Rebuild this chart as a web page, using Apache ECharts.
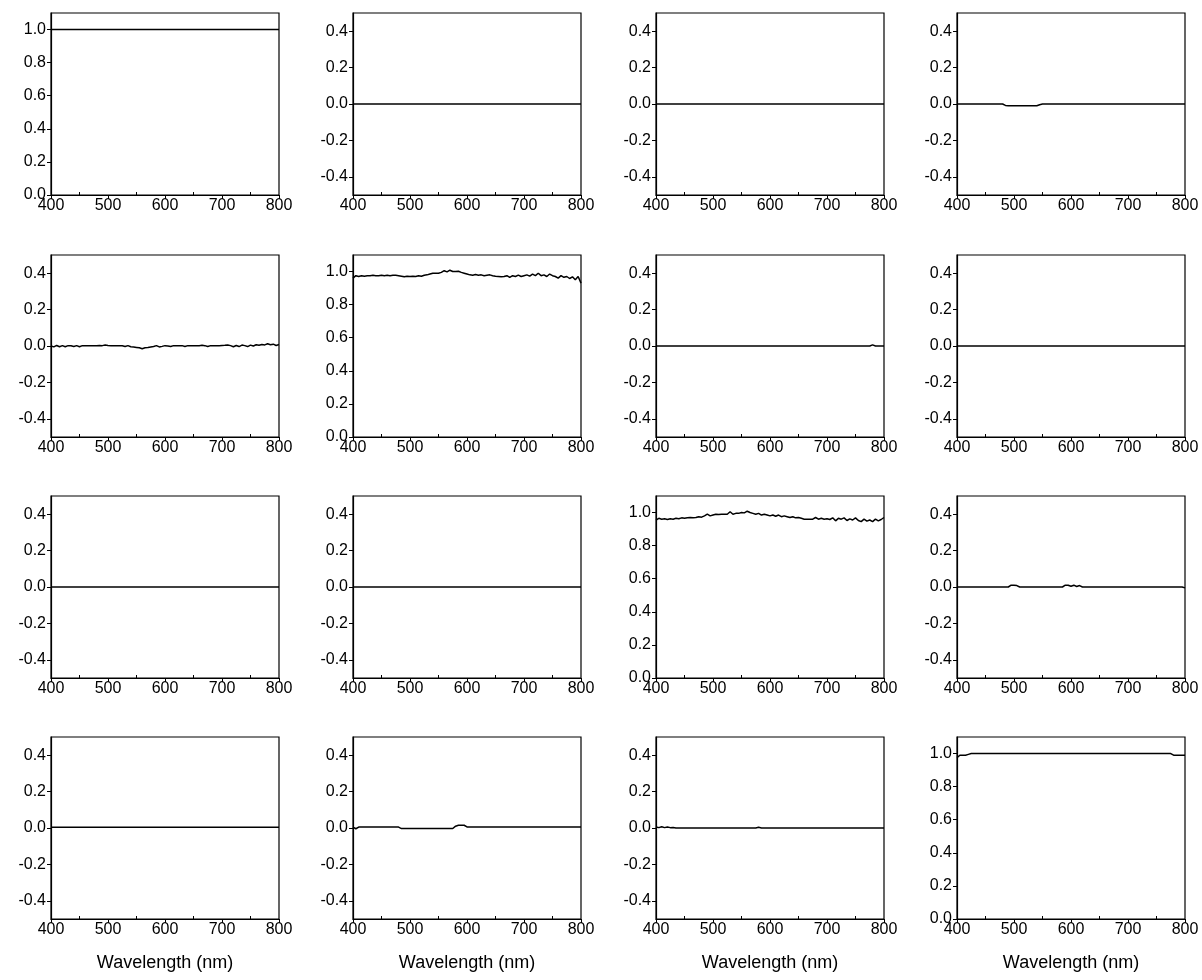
<!DOCTYPE html>
<html><head><meta charset="utf-8">
<script src="https://cdn.jsdelivr.net/npm/echarts@6/dist/echarts.min.js"></script>
<style>html,body{margin:0;padding:0;background:#fff}#c{width:1202px;height:980px}</style>
</head><body><div id="c"></div><script>
// Wavelength grids (nm)
const wl5 = [400,405,410,415,420,425,430,435,440,445,450,455,460,465,470,475,480,485,490,495,
500,505,510,515,520,525,530,535,540,545,550,555,560,565,570,575,580,585,590,595,
600,605,610,615,620,625,630,635,640,645,650,655,660,665,670,675,680,685,690,695,
700,705,710,715,720,725,730,735,740,745,750,755,760,765,770,775,780,785,790,795,800];
const wlEnds = [400, 800];

// Tick labels
const xTicks = [400,500,600,700,800];
const xMinorTicks = [450,550,650,750];
const yTicksUnit = [0,0.2,0.4,0.6,0.8,1.0];
const yTicksSym = [-0.4,-0.2,0,0.2,0.4];
const xTitle = 'Wavelength (nm)';

// Panel values (row by row)
const p1 = [1.0, 1.0];
const p2 = [0, 0];
const p3 = [0, 0];
const p4 = [0,0,0,0,0,0,0,0,0,0,0,0,0,0,0,0,0,-0.008,
-0.01,-0.01,-0.01,-0.01,-0.01,-0.01,-0.01,-0.01,-0.01,-0.01,-0.01,-0.004,
0,0,0,0,0,0,0,0,0,0,0,0,0,0,0,0,0,0,0,0,0,0,0,0,0,0,0,0,0,0,0,0,0,0,0,0,0,0,0,0,0,0,0,0,0,0,0,0,0,0,0];
const p5 = [0,-0.005,0.003,-0.004,0.002,-0.004,0.002,0.001,-0.003,0.002,-0.004,0.002,0.002,0.001,0.002,0.002,0.002,0.003,0.002,0.005,
0.003,0.002,0.002,0.002,0.002,0.001,-0.003,0.002,-0.004,-0.006,-0.008,-0.01,-0.015,-0.01,-0.008,-0.005,-0.003,0.002,-0.005,-0.002,
0.002,0,-0.003,0.002,0.002,0.002,0.002,-0.003,0.002,0.002,0.002,0.002,0.002,0.004,0.002,-0.003,0.002,0.002,0.002,0.002,
0.003,0.004,0.006,0.002,-0.004,0.003,-0.003,0.005,0.002,-0.003,0.005,0,0.007,0.004,0.008,0.006,0.012,0.007,0.01,0.003,0.008];
const p6 = [0.96,0.975,0.97,0.975,0.972,0.975,0.975,0.978,0.975,0.975,0.978,0.975,0.978,0.975,0.978,0.978,0.975,0.972,0.968,0.972,
0.97,0.972,0.97,0.975,0.972,0.978,0.98,0.985,0.99,0.99,0.99,0.995,1.005,0.998,1.008,1.0,1.0,1.002,0.995,0.99,
0.985,0.98,0.978,0.982,0.978,0.98,0.975,0.978,0.98,0.975,0.972,0.97,0.968,0.97,0.975,0.965,0.975,0.97,0.978,0.97,
0.975,0.98,0.972,0.985,0.975,0.99,0.975,0.98,0.97,0.985,0.975,0.97,0.96,0.975,0.965,0.97,0.958,0.968,0.95,0.97,0.93];
const p7 = [0,0,0,0,0,0,0,0,0,0,0,0,0,0,0,0,0,0,0,0,0,0,0,0,0,0,0,0,0,0,0,0,0,0,0,0,0,0,0,0,
0,0,0,0,0,0,0,0,0,0,0,0,0,0,0,0,0,0,0,0,0,0,0,0,0,0,0,0,0,0,0,0,0,0,0,0,0.006,0,0,0,0];
const p8 = [0, 0];
const p9 = [0, 0];
const p10 = [0, 0];
const p11 = [0.955,0.965,0.96,0.962,0.958,0.962,0.96,0.965,0.962,0.968,0.965,0.968,0.97,0.968,0.97,0.975,0.972,0.98,0.99,0.98,
0.985,0.99,0.988,0.99,0.99,0.99,1.005,0.99,0.995,0.995,1.0,0.998,1.008,1.0,0.995,0.99,0.995,0.985,0.99,0.985,
0.98,0.985,0.978,0.985,0.975,0.98,0.975,0.97,0.975,0.968,0.97,0.965,0.96,0.96,0.96,0.96,0.97,0.96,0.965,0.96,
0.962,0.958,0.968,0.95,0.965,0.96,0.968,0.952,0.962,0.955,0.968,0.952,0.945,0.96,0.948,0.955,0.945,0.96,0.95,0.958,0.97];
const p12 = [0,0,0,0,0,0,0,0,0,0,0,0,0,0,0,0,0,0,0,0.01,0.01,0.008,
0,0,0,0,0,0,0,0,0,0,0,0,0,0,0,0,0.01,0.01,0.004,0.01,0.003,0.008,
0,0,0,0,0,0,0,0,0,0,0,0,0,0,0,0,0,0,0,0,0,0,0,0,0,0,0,0,0,0,0,0,0,0,0,0,-0.005];
const p13 = [0.004, 0.004];
const p14 = [0.005,-0.004,0.005,0.005,0.005,0.005,0.005,0.005,0.005,0.005,0.005,0.005,0.005,0.005,0.005,0.005,0.005,
-0.003,-0.003,-0.003,-0.003,-0.003,-0.003,-0.003,-0.003,-0.003,-0.003,-0.003,-0.003,-0.003,-0.003,-0.003,-0.003,-0.003,-0.003,-0.003,
0.01,0.015,0.015,0.015,0.006,
0.005,0.005,0.005,0.005,0.005,0.005,0.005,0.005,0.005,0.005,0.005,0.005,0.005,0.005,0.005,0.005,0.005,0.005,0.005,0.005,
0.005,0.005,0.005,0.005,0.005,0.005,0.005,0.005,0.005,0.005,0.005,0.005,0.005,0.005,0.005,0.005,0.005,0.005,0.005,0.005];
const p15 = [0.006,0.002,0.007,0.002,0.006,0.002,0.003,
0,0,0,0,0,0,0,0,0,0,0,0,0,0,0,0,0,0,0,0,0,0,0,0,0,0,0,0,0,0.004,
0,0,0,0,0,0,0,0,0,0,0,0,0,0,0,0,0,0,0,0,0,0,0,0,0,0,0,0,0,0,0,0,0,0,0,0,0,0,0,0,0,0,0,0];
const p16 = [0.975,0.99,0.99,0.99,0.995,
1,1,1,1,1,1,1,1,1,1,1,1,1,1,1,1,1,1,1,1,1,1,1,1,1,1,1,1,1,1,1,1,1,1,1,1,1,1,
1,1,1,1,1,1,1,1,1,1,1,1,1,1,1,1,1,1,1,1,1,1,1,1,1,1,1,1,1,1,1,1,1,
0.99,0.99,0.99,0.99,0.99,0.99,0.99,0.98];

const panels = [
  {x: wlEnds, y: p1, unit: true},  {x: wlEnds, y: p2, unit: false}, {x: wlEnds, y: p3, unit: false}, {x: wl5, y: p4, unit: false},
  {x: wl5, y: p5, unit: false},    {x: wl5, y: p6, unit: true},     {x: wl5, y: p7, unit: false},    {x: wlEnds, y: p8, unit: false},
  {x: wlEnds, y: p9, unit: false}, {x: wlEnds, y: p10, unit: false},{x: wl5, y: p11, unit: true},    {x: wl5, y: p12, unit: false},
  {x: wlEnds, y: p13, unit: false},{x: wl5, y: p14, unit: false},   {x: wl5, y: p15, unit: false},   {x: wl5, y: p16, unit: true}
];

const lefts = [51, 353, 656, 957];
const tops = [13, 255, 496, 737];
const W = 228, H = 182;
const FONT = 'Liberation Sans, Arial, sans-serif';

const grid = [], xAxis = [], yAxis = [], series = [];
panels.forEach((p, i) => {
  const row = Math.floor(i / 4), col = i % 4;
  grid.push({left: lefts[col], top: tops[row], width: W, height: H, show: true,
    borderColor: '#000', borderWidth: 1.2, backgroundColor: 'transparent'});
  xAxis.push({gridIndex: i, type: 'value', min: 400, max: 800, interval: 100, position: 'bottom',
    axisLine: {show: true, onZero: false, lineStyle: {color: '#000', width: 1.2}},
    axisTick: {show: true, length: 4, lineStyle: {color: '#000'}},
    axisLabel: {color: '#000', fontSize: 16, margin: 3, fontFamily: FONT, customValues: xTicks},
    splitLine: {show: false},
    name: row === 3 ? xTitle : '', nameLocation: 'middle', nameGap: 35,
    nameTextStyle: {color: '#000', fontSize: 18, fontFamily: FONT}});
  xAxis.push({gridIndex: i, type: 'value', min: 400, max: 800, position: 'bottom', offset: 0,
    axisLine: {show: false, onZero: false},
    axisTick: {show: true, inside: true, length: 3, customValues: xMinorTicks, lineStyle: {color: '#000'}},
    axisLabel: {show: false}, splitLine: {show: false}});
  const ticks = p.unit ? yTicksUnit : yTicksSym;
  yAxis.push({gridIndex: i, type: 'value',
    min: p.unit ? 0 : -0.5, max: p.unit ? 1.1 : 0.5,
    axisLine: {show: true, onZero: false, lineStyle: {color: '#000', width: 1.2}},
    axisTick: {show: true, length: 4, customValues: ticks, lineStyle: {color: '#000'}},
    axisLabel: {color: '#000', fontSize: 16, margin: 5, fontFamily: FONT, customValues: ticks,
      formatter: v => Number(v).toFixed(1)},
    splitLine: {show: false}});
  series.push({type: 'line', xAxisIndex: 2 * i, yAxisIndex: i,
    data: p.x.map((w, k) => [w, p.y[k]]),
    symbol: 'none', showSymbol: false, animation: false,
    lineStyle: {color: '#000', width: 1.5}});
});

const chart = echarts.init(document.getElementById('c'), null, {renderer: 'canvas'});
chart.setOption({animation: false, backgroundColor: '#fff', grid, xAxis, yAxis, series});
</script></body></html>
